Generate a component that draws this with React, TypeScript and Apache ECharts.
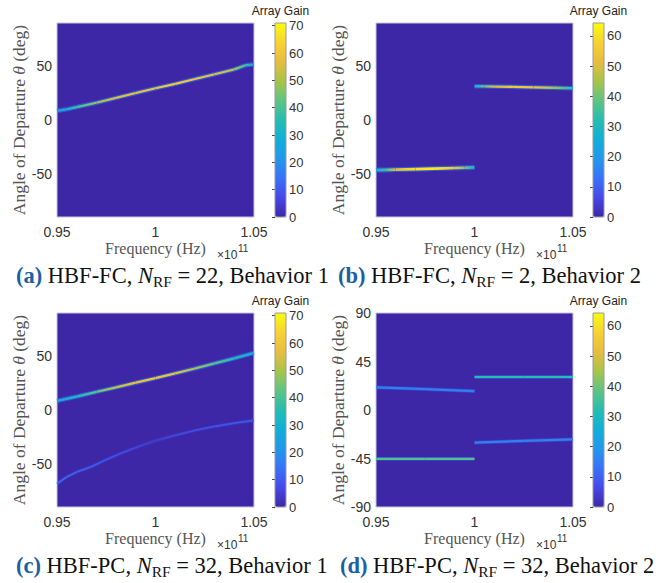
import React, { useEffect, useRef } from "react";
import * as echarts from "echarts";

// ---------------- Data (frequency in ×10^11 Hz, AoD θ in deg, array gain) ----------------
// (a) HBF-FC, N_RF = 22, Behavior 1
const aFreq = [0.95, 0.955, 0.96, 0.97, 0.98, 0.99, 1.0, 1.01, 1.02, 1.03, 1.04, 1.046, 1.05];
const aAngle = [8.5, 10, 12, 16, 20.5, 25, 29.5, 33.5, 38, 42.5, 47, 51, 51.5];
const aGain = [22, 30, 38, 48, 55, 58, 60, 60, 60, 57, 50, 38, 25];

// (b) HBF-FC, N_RF = 2, Behavior 2
const bLowFreq = [0.95, 0.955, 0.96, 0.97, 0.98, 0.99, 0.995, 1.0];
const bLowAngle = [-46.5, -46.3, -46, -45.6, -45.1, -44.6, -44.3, -44];
const bLowGain = [22, 35, 50, 60, 62, 55, 42, 25];
const bHighFreq = [1.0, 1.005, 1.01, 1.02, 1.03, 1.04, 1.045, 1.05];
const bHighAngle = [31.3, 31.2, 31.0, 30.7, 30.3, 29.9, 29.7, 29.5];
const bHighGain = [25, 40, 50, 55, 54, 45, 38, 30];

// (c) HBF-PC, N_RF = 32, Behavior 1
const cMainFreq = [0.95, 0.96, 0.97, 0.98, 0.99, 1.0, 1.01, 1.02, 1.03, 1.04, 1.05];
const cMainAngle = [8.5, 12.5, 16.8, 21, 25.3, 29.6, 34, 38.5, 43.2, 48, 53];
const cMainGain = [26, 33, 42, 52, 58, 60, 57, 50, 42, 34, 27];
const cSideFreq = [0.95, 0.955, 0.96, 0.967, 0.975, 0.984, 0.992, 1.0, 1.01, 1.02, 1.03, 1.04, 1.05];
const cSideAngle = [-68.5, -62, -57.5, -53, -46, -39, -33.5, -28.5, -23.5, -19, -15.3, -12.2, -9.6];
const cSideGain = [12, 12, 11, 10, 8, 7, 5, 4, 6, 7, 8, 9, 9];

// (d) HBF-PC, N_RF = 32, Behavior 2
const dUpperLeftFreq = [0.95, 0.975, 1.0];
const dUpperLeftAngle = [21, 19.3, 17.5];
const dUpperLeftGain = [15, 15, 15];
const dLowerLeftFreq = [0.95, 0.975, 1.0];
const dLowerLeftAngle = [-45.3, -45.3, -45.3];
const dLowerLeftGain = [37, 37, 37];
const dUpperRightFreq = [1.0, 1.025, 1.05];
const dUpperRightAngle = [30.6, 30.6, 30.6];
const dUpperRightGain = [32, 32, 32];
const dLowerRightFreq = [1.0, 1.025, 1.05];
const dLowerRightAngle = [-30.2, -28.7, -27.2];
const dLowerRightGain = [15, 15, 15];

// Ticks / ranges
const xTicks = [0.95, 1, 1.05];
const yTicksBehavior = [-50, 0, 50];
const yTicksD = [-90, -45, 0, 45, 90];
const cbTicksA = [0, 10, 20, 30, 40, 50, 60, 70];
const cbTicksB = [0, 10, 20, 30, 40, 50, 60];
const cbMaxA = 71;
const cbMaxB = 64.3;

const captions = [
  { label: "(a)", scheme: "HBF-FC", nrf: "22", behavior: "Behavior 1" },
  { label: "(b)", scheme: "HBF-FC", nrf: "2", behavior: "Behavior 2" },
  { label: "(c)", scheme: "HBF-PC", nrf: "32", behavior: "Behavior 1" },
  { label: "(d)", scheme: "HBF-PC", nrf: "32", behavior: "Behavior 2" },
];

// ---------------- Styling ----------------
const PARULA = [
  "#3E26A8", "#4748E8", "#3872F7", "#2398EA", "#11AED8", "#25BDB1",
  "#5EC482", "#A7C549", "#E8BC3E", "#F7D233", "#F9FB0E",
];
const BG = "#3D27A7";
const SANS = "Liberation Sans";
const SERIF = "Liberation Serif";
const W = 197;
const H = 194;

const zip = (f: number[], a: number[], g: number[]) => f.map((v, i) => [v, a[i], g[i]]);

const makeRender = (core: number, halo: number, haloOpacity: number) => (params: any, api: any) => {
  const i = params.dataIndexInside;
  const n = params.dataInsideLength;
  if (i >= n - 1) return { type: "group", children: [] };
  const p0 = api.coord([api.value(0, i), api.value(1, i)]);
  const p1 = api.coord([api.value(0, i + 1), api.value(1, i + 1)]);
  const c0 = api.visual("color", i);
  const c1 = api.visual("color", i + 1);
  const grad = new echarts.graphic.LinearGradient(
    p0[0], p0[1], p1[0], p1[1],
    [{ offset: 0, color: c0 }, { offset: 1, color: c1 }],
    true
  );
  const shape = { x1: p0[0], y1: p0[1], x2: p1[0], y2: p1[1] };
  return {
    type: "group",
    children: [
      { type: "line", shape, style: { stroke: "#2F7DF5", lineWidth: halo, opacity: haloOpacity, lineCap: "butt" } },
      { type: "line", shape, style: { stroke: grad, lineWidth: core, lineCap: "butt" } },
    ],
  };
};

const panels = [
  { left: 57, top: 23, cbLeft: 275, capLeft: 16, cbMax: cbMaxA, cbTicks: cbTicksA, yTicks: yTicksBehavior, yInterval: 10,
    traces: [{ d: zip(aFreq, aAngle, aGain), core: 2.2, halo: 4.5, ho: 0.55 }] },
  { left: 376, top: 23, cbLeft: 593, capLeft: 338, cbMax: cbMaxB, cbTicks: cbTicksB, yTicks: yTicksBehavior, yInterval: 10,
    traces: [
      { d: zip(bLowFreq, bLowAngle, bLowGain), core: 2.6, halo: 5, ho: 0.55 },
      { d: zip(bHighFreq, bHighAngle, bHighGain), core: 2.4, halo: 4.5, ho: 0.55 },
    ] },
  { left: 57, top: 313, cbLeft: 275, capLeft: 16, cbMax: cbMaxA, cbTicks: cbTicksA, yTicks: yTicksBehavior, yInterval: 10,
    traces: [
      { d: zip(cMainFreq, cMainAngle, cMainGain), core: 2.3, halo: 4.5, ho: 0.55 },
      { d: zip(cSideFreq, cSideAngle, cSideGain), core: 1.8, halo: 3.6, ho: 0.15 },
    ] },
  { left: 376, top: 313, cbLeft: 593, capLeft: 340, cbMax: cbMaxB, cbTicks: cbTicksB, yTicks: yTicksD, yInterval: 45,
    traces: [
      { d: zip(dUpperLeftFreq, dUpperLeftAngle, dUpperLeftGain), core: 2.2, halo: 3.8, ho: 0.35 },
      { d: zip(dLowerLeftFreq, dLowerLeftAngle, dLowerLeftGain), core: 2.2, halo: 3.8, ho: 0.45 },
      { d: zip(dUpperRightFreq, dUpperRightAngle, dUpperRightGain), core: 2.2, halo: 3.8, ho: 0.45 },
      { d: zip(dLowerRightFreq, dLowerRightAngle, dLowerRightGain), core: 2.2, halo: 3.8, ho: 0.35 },
    ] },
];

function buildOption() {
  const grid: any[] = [];
  const xAxis: any[] = [];
  const yAxis: any[] = [];
  const series: any[] = [];
  const visualMap: any[] = [];
  const graphic: any[] = [];

  panels.forEach((p, k) => {
    grid.push({ left: p.left, top: p.top, width: W, height: H, show: true, backgroundColor: BG,
      borderColor: "#c6c6d6", borderWidth: 1 });
    xAxis.push({
      gridIndex: k, type: "value", min: 0.95, max: 1.05, interval: 0.05,
      axisLine: { show: false }, axisTick: { show: false }, splitLine: { show: false },
      axisLabel: {
        customValues: xTicks, margin: 8, fontSize: 14, fontFamily: SANS, color: "#333",
        formatter: (v: number) => String(parseFloat(v.toFixed(3))),
      },
      name: "Frequency (Hz)", nameLocation: "middle", nameGap: 23,
      nameTextStyle: { fontFamily: SERIF, fontSize: 16, color: "#555" },
    });
    const yt = p.yTicks;
    yAxis.push({
      gridIndex: k, type: "value", min: -90, max: 90, interval: p.yInterval,
      axisLine: { show: false }, axisTick: { show: false }, splitLine: { show: false },
      axisLabel: {
        customValues: yt, margin: 5, fontSize: 14, fontFamily: SANS, color: "#333",
        formatter: (v: number) => (yt.some((t) => Math.abs(t - v) < 1e-6) ? String(Math.round(v)) : ""),
      },
      name: "Angle of Departure {i|θ} (deg)", nameLocation: "middle", nameGap: 28,
      nameTextStyle: {
        fontFamily: SERIF, fontSize: 17.5, color: "#555",
        rich: { i: { fontFamily: SERIF, fontStyle: "italic", fontSize: 17.5, color: "#555" } },
      },
    });
  });

  // colorbar axes grids (indices 4..7)
  panels.forEach((p, k) => {
    const idx = 4 + k;
    const ticks = p.cbTicks;
    grid.push({ left: p.cbLeft, top: p.top, width: 11, height: H, show: true, z: 10,
      backgroundColor: "transparent", borderColor: "#9a9a9a", borderWidth: 1 });
    xAxis.push({ gridIndex: idx, type: "value", show: false, min: 0, max: 1 });
    yAxis.push({
      gridIndex: idx, type: "value", position: "right", min: 0, max: p.cbMax, interval: 10,
      axisLine: { show: false }, splitLine: { show: false },
      axisTick: { show: true, inside: true, length: 3, lineStyle: { color: "#444" }, customValues: ticks },
      axisLabel: {
        customValues: ticks, margin: 3, fontSize: 13, fontFamily: SANS, color: "#333",
        formatter: (v: number) => (ticks.some((t) => Math.abs(t - v) < 1e-6) ? String(Math.round(v)) : ""),
      },
    });
  });

  panels.forEach((p, k) => {
    const seriesIdx: number[] = [];
    p.traces.forEach((t) => {
      seriesIdx.push(series.length);
      series.push({
        type: "custom", xAxisIndex: k, yAxisIndex: k, silent: true, z: 3,
        dimensions: ["freq", "angle", "gain"], encode: { x: 0, y: 1 },
        renderItem: makeRender(t.core, t.halo, t.ho), data: t.d,
      });
    });
    visualMap.push({
      type: "continuous", seriesIndex: seriesIdx, dimension: 2, min: 0, max: p.cbMax,
      inRange: { color: PARULA }, calculable: false, hoverLink: false,
      left: p.cbLeft, top: p.top, itemWidth: 11, itemHeight: H, padding: 0, orient: "vertical",
      borderWidth: 0,
    });
    const cx = p.cbLeft + 5.5;
    graphic.push({
      type: "text", x: cx, y: p.top - 12.5,
      style: { text: "Array Gain", fontSize: 12, fontFamily: SANS, fill: "#222",
        align: "center", verticalAlign: "middle", textAlign: "center", textVerticalAlign: "middle" },
    });
    const ex = p.left + W - 37;
    graphic.push({
      type: "text", x: ex, y: p.top + H + 38,
      style: { text: "×10", fontSize: 12, fontFamily: SANS, fill: "#333",
        align: "left", verticalAlign: "middle", textAlign: "left", textVerticalAlign: "middle" },
    });
    graphic.push({
      type: "text", x: ex + 21, y: p.top + H + 31,
      style: { text: "11", fontSize: 10, fontFamily: SANS, fill: "#333",
        align: "left", verticalAlign: "middle", textAlign: "left", textVerticalAlign: "middle" },
    });
    const c = captions[k];
    const FS = 22.5;
    graphic.push({
      type: "text", left: p.capLeft, top: p.top + H + 47,
      style: {
        text: `{lab|${c.label}}{n| ${c.scheme}, }{i|N}{s|RF}{n| = ${c.nrf}, ${c.behavior}}`,
        fill: "#111", fontSize: FS, fontFamily: SERIF,
        rich: {
          lab: { fontFamily: SERIF, fontWeight: "bold", fontSize: FS, fill: "#1d5fa0", lineHeight: 28 },
          n: { fontFamily: SERIF, fontSize: FS, fill: "#111", lineHeight: 28 },
          i: { fontFamily: SERIF, fontStyle: "italic", fontSize: FS, fill: "#111", lineHeight: 28 },
          s: { fontFamily: SERIF, fontSize: 15.5, fill: "#111", lineHeight: 15, verticalAlign: "bottom" },
        },
      },
    });
  });

  return {
    animation: false,
    backgroundColor: "#ffffff",
    grid, xAxis, yAxis, series, visualMap, graphic,
  };
}

export default function App() {
  const ref = useRef<HTMLDivElement | null>(null);
  useEffect(() => {
    if (!ref.current) return;
    const chart = echarts.init(ref.current, undefined, { renderer: "svg" });
    chart.setOption(buildOption() as any);
    return () => chart.dispose();
  }, []);
  return (
    <div
      ref={ref}
      style={{ position: "absolute", left: 0, top: 0, width: 666, height: 583, background: "#fff" }}
    />
  );
}
